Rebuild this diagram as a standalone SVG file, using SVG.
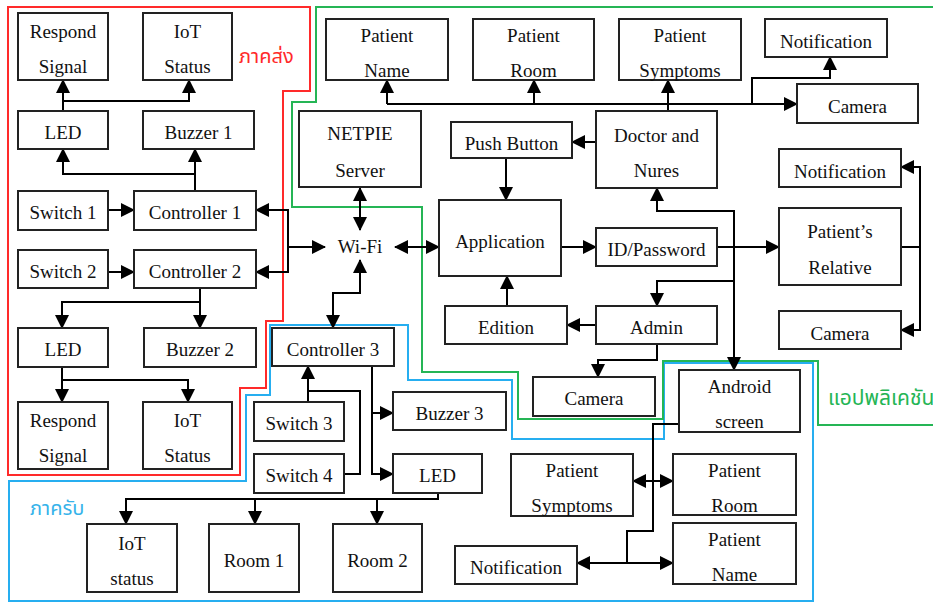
<svg xmlns="http://www.w3.org/2000/svg" width="933" height="603" viewBox="0 0 933 603" font-family="'Liberation Serif', 'DejaVu Serif', serif">
<defs>
<marker id="ah" markerUnits="userSpaceOnUse" markerWidth="14" markerHeight="14" viewBox="0 0 14 14" refX="13" refY="7" orient="auto-start-reverse">
<path d="M0,0 L14,7 L0,14 z" fill="#000"/>
</marker>
<style>
rect{fill:#fff;stroke:#222;stroke-width:2}
text{font-family:'Liberation Serif','DejaVu Serif',serif;font-size:19px;fill:#111;text-anchor:middle}
.c path{fill:none;stroke:#000;stroke-width:2}
.e{marker-end:url(#ah)}
.b{marker-start:url(#ah);marker-end:url(#ah)}
.zone{fill:none;stroke-width:2}
text.th{font-family:'Noto Sans Thai','Noto Sans','DejaVu Sans',sans-serif;font-size:20px;text-anchor:start}
</style>
</defs>
<rect width="933" height="603" style="fill:#fff;stroke:none"/>
<g id="zones">
<polygon class="zone" stroke="#ff2a2a" points="8,7 310,7 310,91 283,91 283,321 266,321 266,388 240,388 240,475 8,475"/>
<polygon class="zone" stroke="#26aef0" points="270,325 408,325 408,380 512,380 512,439 664,439 664,363 813,363 813,601 9,601 9,481 246,481 246,395 270,395"/>
<polyline class="zone" stroke="#25b555" points="935,7 316,7 316,102 292,102 292,207 422,207 422,372 518,372 518,419 663,419 663,361 818,361 818,425 935,425"/>
<text class="th" x="239" y="63" style="fill:#ff2a2a">ภาคส่ง</text>
<text class="th" x="828" y="405" style="fill:#25b555;font-size:21px">แอปพลิเคชัน</text>
<text class="th" x="30" y="515" style="fill:#36b3ea">ภาครับ</text>
</g>
<g id="connectors" class="c">
<path class="e" d="M63,111 L63,80"/>
<path class="e" d="M63,101 L189,101 L189,80"/>
<path class="e" d="M195,191 L195,174 L63,174 L63,149"/>
<path class="e" d="M195,174 L195,149"/>
<path class="e" d="M108,210 L134,210"/>
<path class="e" d="M108,272 L134,272"/>
<path class="b" d="M256,210 L288,210 L288,272 L256,272"/>
<path class="e" d="M288,247 L325,247"/>
<path class="e" d="M200,288 L200,328"/>
<path class="e" d="M200,302 L62,302 L62,328"/>
<path class="e" d="M62,367 L62,402"/>
<path class="e" d="M62,380 L188,380 L188,402"/>
<path class="b" d="M360,188 L360,230"/>
<path class="b" d="M395,247 L439,247"/>
<path class="b" d="M360,260 L360,293 L333,293 L333,328"/>
<path class="e" d="M308,402 L308,366"/>
<path d="M344,474 L360,474 L360,391 L308,391"/>
<path class="e" d="M372,366 L372,474 L393,474"/>
<path class="e" d="M372,413 L393,413"/>
<path class="e" d="M438,493 L438,499 L126,499 L126,524"/>
<path class="e" d="M255,499 L255,524"/>
<path class="e" d="M377,499 L377,524"/>
<path class="e" d="M387,104 L797,104"/>
<path class="e" d="M387,104 L387,80"/>
<path class="e" d="M534,104 L534,80"/>
<path class="e" d="M668,111 L668,80"/>
<path class="e" d="M752,104 L752,78 L830,78 L830,57"/>
<path class="e" d="M596,142 L572,142"/>
<path class="e" d="M506,158 L506,200"/>
<path class="e" d="M561,247 L596,247"/>
<path class="e" d="M717,247 L779,247"/>
<path class="b" d="M901,167 L920,167 L920,330 L901,330"/>
<path d="M901,247 L920,247"/>
<path class="b" d="M657,188 L657,211 L734,211 L734,370"/>
<path class="e" d="M734,281 L657,281 L657,306"/>
<path class="e" d="M596,325 L567,325"/>
<path class="e" d="M507,306 L507,276"/>
<path class="e" d="M657,344 L657,360 L598,360 L598,377"/>
<path d="M679,424 L653,424 L653,531 L627,531 L627,563"/>
<path class="b" d="M577,563 L673,563"/>
<path class="b" d="M633,481 L673,481"/>
</g>
<g id="respond1"><rect x="18" y="13" width="90" height="67"/><text x="63" y="38">Respond</text><text x="63" y="73">Signal</text></g>
<g id="iot1"><rect x="143" y="13" width="89" height="67"/><text x="187.5" y="38">IoT</text><text x="187.5" y="73">Status</text></g>
<g id="led1"><rect x="18" y="111" width="90" height="38"/><text x="63" y="139">LED</text></g>
<g id="buzzer1"><rect x="143" y="111" width="111" height="38"/><text x="198.5" y="139">Buzzer 1</text></g>
<g id="switch1"><rect x="18" y="191" width="90" height="39"/><text x="63" y="219">Switch 1</text></g>
<g id="controller1"><rect x="134" y="191" width="122" height="39"/><text x="195" y="219">Controller 1</text></g>
<g id="switch2"><rect x="18" y="250" width="90" height="38"/><text x="63" y="278">Switch 2</text></g>
<g id="controller2"><rect x="134" y="250" width="122" height="38"/><text x="195" y="278">Controller 2</text></g>
<g id="led2"><rect x="18" y="328" width="90" height="39"/><text x="63" y="356">LED</text></g>
<g id="buzzer2"><rect x="144" y="328" width="112" height="39"/><text x="200" y="356">Buzzer 2</text></g>
<g id="respond2"><rect x="18" y="402" width="90" height="67"/><text x="63" y="427">Respond</text><text x="63" y="462">Signal</text></g>
<g id="iot2"><rect x="143" y="402" width="89" height="67"/><text x="187.5" y="427">IoT</text><text x="187.5" y="462">Status</text></g>
<g id="netpie"><rect x="299" y="111" width="122" height="76"/><text x="360" y="140">NETPIE</text><text x="360" y="177">Server</text></g>
<g id="wifi"><text x="360" y="253">Wi-Fi</text></g>
<g id="application"><rect x="439" y="200" width="122" height="76"/><text x="500" y="248">Application</text></g>
<g id="pushbutton"><rect x="451" y="122" width="121" height="36"/><text x="511.5" y="150">Push Button</text></g>
<g id="patientname1"><rect x="326" y="19" width="122" height="61"/><text x="387" y="42">Patient</text><text x="387" y="77">Name</text></g>
<g id="patientroom1"><rect x="473" y="19" width="121" height="61"/><text x="533.5" y="42">Patient</text><text x="533.5" y="77">Room</text></g>
<g id="patientsymptoms1"><rect x="619" y="19" width="122" height="61"/><text x="680" y="42">Patient</text><text x="680" y="77">Symptoms</text></g>
<g id="notification1"><rect x="765" y="19" width="122" height="38"/><text x="826" y="48">Notification</text></g>
<g id="camera1"><rect x="797" y="84" width="121" height="39"/><text x="857.5" y="113">Camera</text></g>
<g id="doctor"><rect x="596" y="111" width="121" height="77"/><text x="656.5" y="142">Doctor and</text><text x="656.5" y="177">Nures</text></g>
<g id="notification2"><rect x="779" y="149" width="122" height="38"/><text x="840" y="178">Notification</text></g>
<g id="idpassword"><rect x="596" y="228" width="121" height="38"/><text x="656.5" y="256">ID/Password</text></g>
<g id="relative"><rect x="779" y="208" width="122" height="77"/><text x="840" y="238">Patient’s</text><text x="840" y="274">Relative</text></g>
<g id="camera2"><rect x="779" y="311" width="122" height="38"/><text x="840" y="340">Camera</text></g>
<g id="edition"><rect x="445" y="306" width="122" height="38"/><text x="506" y="334">Edition</text></g>
<g id="admin"><rect x="596" y="306" width="121" height="38"/><text x="656.5" y="334">Admin</text></g>
<g id="camera3"><rect x="533" y="377" width="122" height="39"/><text x="594" y="405">Camera</text></g>
<g id="android"><rect x="679" y="370" width="121" height="62"/><text x="739.5" y="393">Android</text><text x="739.5" y="428">screen</text></g>
<g id="controller3"><rect x="272" y="328" width="122" height="38"/><text x="333" y="356">Controller 3</text></g>
<g id="switch3"><rect x="254" y="402" width="90" height="39"/><text x="299" y="430">Switch 3</text></g>
<g id="switch4"><rect x="254" y="454" width="90" height="39"/><text x="299" y="482">Switch 4</text></g>
<g id="buzzer3"><rect x="393" y="392" width="113" height="38"/><text x="449.5" y="420">Buzzer 3</text></g>
<g id="led3"><rect x="393" y="454" width="89" height="39"/><text x="437.5" y="482">LED</text></g>
<g id="iotstatus3"><rect x="87" y="524" width="90" height="68"/><text x="132" y="550">IoT</text><text x="132" y="585">status</text></g>
<g id="room1"><rect x="209" y="524" width="90" height="68"/><text x="254" y="567">Room 1</text></g>
<g id="room2"><rect x="333" y="524" width="89" height="68"/><text x="377.5" y="567">Room 2</text></g>
<g id="symptoms2"><rect x="511" y="454" width="122" height="62"/><text x="572" y="477">Patient</text><text x="572" y="512">Symptoms</text></g>
<g id="room2b"><rect x="673" y="454" width="123" height="61"/><text x="734.5" y="477">Patient</text><text x="734.5" y="512">Room</text></g>
<g id="name2"><rect x="673" y="523" width="123" height="61"/><text x="734.5" y="546">Patient</text><text x="734.5" y="581">Name</text></g>
<g id="notification3"><rect x="455" y="546" width="122" height="38"/><text x="516" y="574">Notification</text></g>
</svg>
